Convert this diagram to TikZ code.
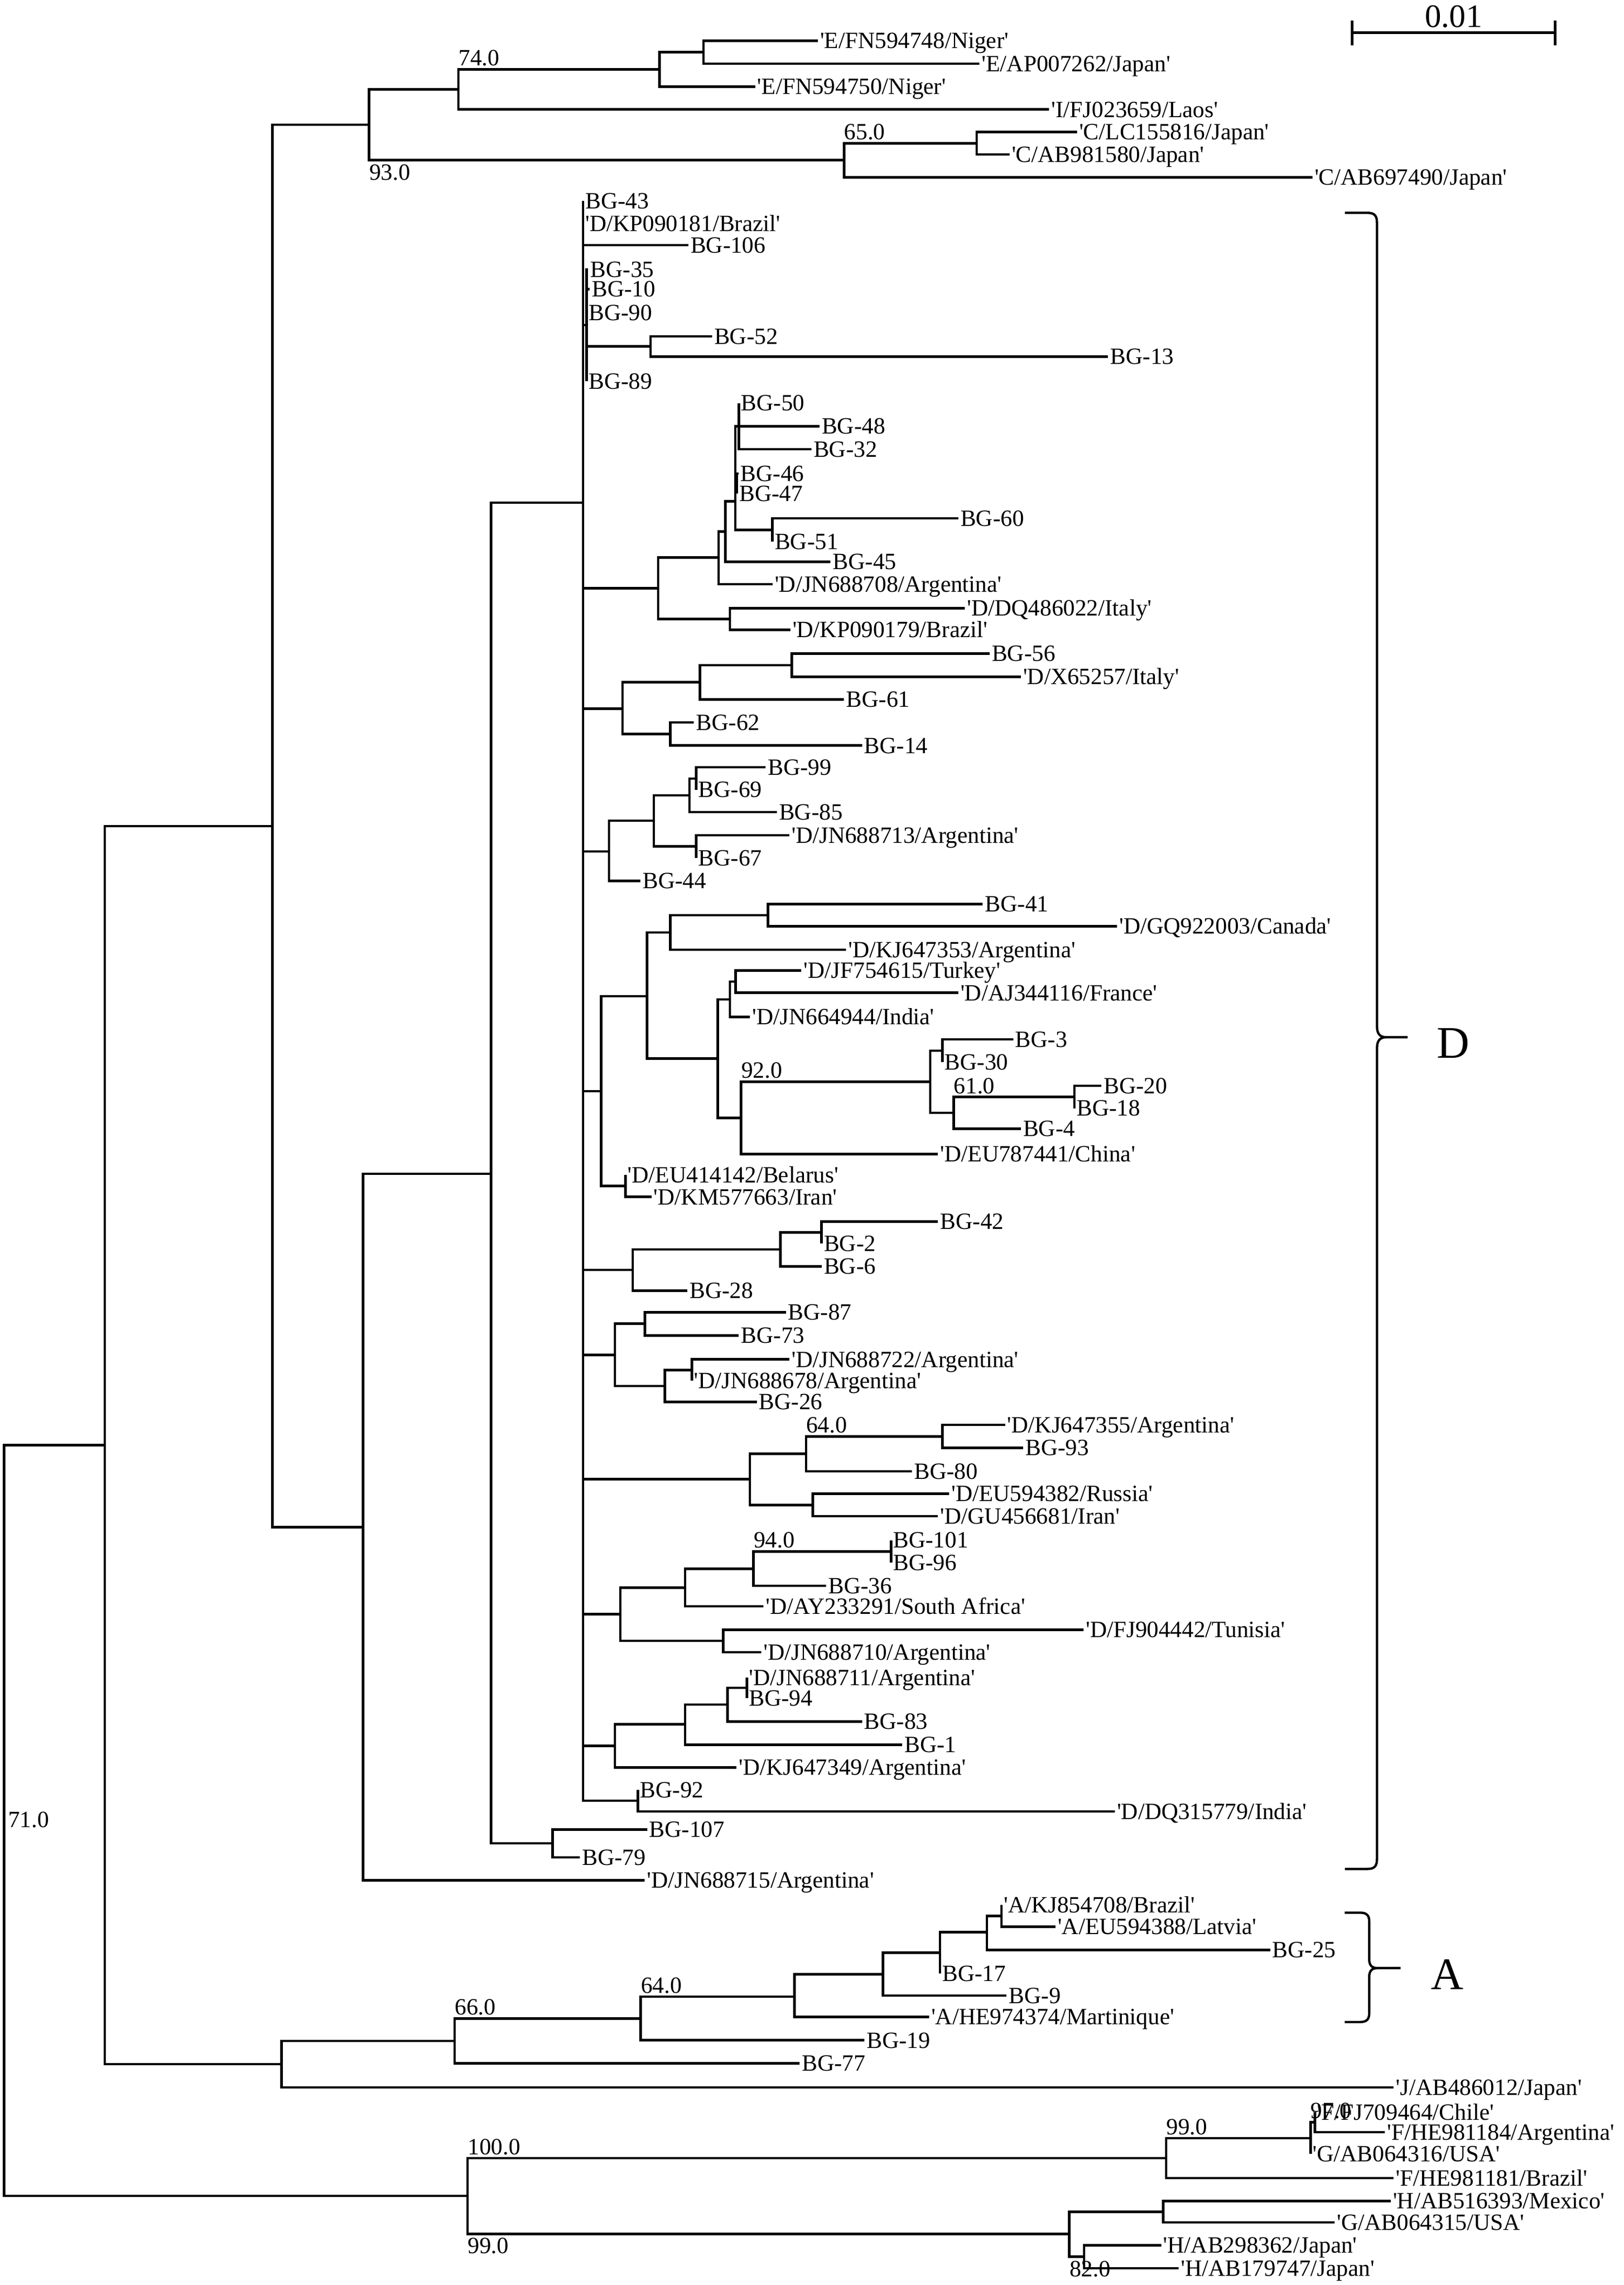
\documentclass[tikz,border=0pt]{standalone}
\usepackage{fontspec}
\newfontfamily\labfont{Liberation Serif}
\newcommand\lfnt{\labfont\fontsize{16}{18}\selectfont}
\newcommand\tipL[4]{\node[leaf] (#1) at (#2,#3) {#4};}
\newcommand\inN[3]{\coordinate (#1) at (#2,#3);}
\newcommand\edL[2]{\draw[br] (#1) |- (#2.west);}
\newcommand\edI[2]{\draw[br] (#1) |- (#2);}
\begin{document}
\begin{tikzpicture}[x=1pt,y=-1pt,
  br/.style={line width=1.7pt},
  brk/.style={line width=1.6pt},
  leaf/.style={anchor=west,inner xsep=1.4pt,inner ysep=0pt,text height=10.6pt,text depth=0pt,font=\lfnt},
  bsa/.style={anchor=base west,inner sep=0pt,font=\lfnt},
  bsb/.style={anchor=north west,inner sep=0pt,text height=10.8pt,text depth=0pt,font=\lfnt},
  grp/.style={inner sep=0pt,text height=20.5pt,text depth=0pt,font=\labfont\fontsize{31}{33}\selectfont}]
\useasboundingbox (0,0) rectangle (1114.07,1567.41);
% ================= internal nodes
\inN{r}{2.8}{1248.9}
\inN{n72}{71.8}{991.2}
\inN{n187}{186.8}{566.7}
\inN{n253}{253.2}{85.6}
\inN{n314}{314.4}{61.3}
\inN{nE}{452.4}{47.6}
\inN{nEE}{482.6}{35.8}
\inN{n579}{579}{109.9}
\inN{nCC}{670}{98.25}
\inN{n247}{249}{1047.6}
\inN{n337}{336.8}{805.2}
\inN{n379}{379}{1264.5}
\inN{nD0}{400}{344.8}
\inN{nD1}{402.3}{223}
\inN{n446}{446.3}{237.7}
\inN{n451}{451.5}{403.5}
\inN{n493}{493}{382.4}
\inN{n500}{500.7}{424.65}
\inN{n497}{497.6}{364.65}
\inN{nB}{504.5}{343.9}
\inN{nA}{506.8}{292.4}
\inN{nC}{505.5}{331.7}
\inN{nDD}{529.9}{363.5}
\inN{n427}{427}{486.2}
\inN{n480}{480.1}{468.0}
\inN{n543}{543.1}{456.3}
\inN{n460}{459.8}{503.5}
\inN{n418}{417.8}{584}
\inN{n448}{448.5}{563.0}
\inN{n473}{473.0}{545.5}
\inN{n477}{477.6}{534.0}
\inN{n478}{477.6}{580.65}
\inN{n412}{412.5}{748.5}
\inN{n444}{443.9}{683.4}
\inN{n460b}{459.8}{639.7}
\inN{n527}{526.8}{627.8}
\inN{n492}{492.4}{726.1}
\inN{n501}{500.7}{685.5}
\inN{n505}{504.7}{673.4}
\inN{n508}{508.4}{766.8}
\inN{n638}{638.2}{742.0}
\inN{n646}{646.5}{720.7}
\inN{n654}{654.2}{763.4}
\inN{n737}{737.1}{752.5}
\inN{n429}{429.1}{813.5}
\inN{n434}{434.0}{871.1}
\inN{n535}{535.4}{857.1}
\inN{n564}{563.6}{845.45}
\inN{n422}{421.8}{929.4}
\inN{n442}{442.3}{908.0}
\inN{n456}{456.2}{950.7}
\inN{n475}{474.6}{939.75}
\inN{n514}{514.5}{1014.7}
\inN{n553}{552.9}{997.3}
\inN{n646b}{646.5}{985.3}
\inN{n557}{557.5}{1032.3}
\inN{n425}{425.5}{1107.3}
\inN{n470}{470.0}{1089.1}
\inN{n517}{516.9}{1076.0}
\inN{n611}{611.2}{1064.2}
\inN{n496}{496.1}{1125.6}
\inN{n422b}{421.8}{1197.5}
\inN{n470b}{470.0}{1182.7}
\inN{n499}{499.1}{1169.3}
\inN{n512}{512.3}{1157.8}
\inN{n437}{437.6}{1235.1}
\inN{n193}{193.2}{1415.9}
\inN{n312}{311.9}{1400}
\inN{n440}{439.5}{1384.6}
\inN{n545}{545}{1369.6}
\inN{n606}{605.7}{1354.2}
\inN{n645}{644.8}{1339.5}
\inN{n677}{677}{1325.4}
\inN{n687}{687}{1314.2}
\inN{nFH}{320.7}{1506.3}
\inN{n800}{800}{1480.3}
\inN{n899}{899}{1466.6}
\inN{n902}{902}{1455.8}
\inN{n734}{733.6}{1532.4}
\inN{n798}{798}{1517.2}
\inN{n744}{743.7}{1548.0}
% ================= leaves
\tipL{e1}{561}{27.9}{'E/FN594748/Niger'}
\tipL{e2}{672}{43.7}{'E/AP007262/Japan'}
\tipL{e3}{518}{59.5}{'E/FN594750/Niger'}
\tipL{i1}{719.8}{75.1}{'I/FJ023659/Laos'}
\tipL{c1}{738.8}{90.5}{'C/LC155816/Japan'}
\tipL{c2}{692.5}{106}{'C/AB981580/Japan'}
\tipL{c3}{900.3}{121.6}{'C/AB697490/Japan'}
\tipL{b107}{443.9}{1255}{BG-107}
\tipL{b79}{397.8}{1274}{BG-79}
\tipL{d715}{442.3}{1289.7}{'D/JN688715/Argentina'}
\tipL{b43}{400}{137.7}{BG-43}
\tipL{d181}{400}{153.5}{'D/KP090181/Brazil'}
\tipL{b106}{472.1}{168.1}{BG-106}
\tipL{b35}{403.5}{185}{BG-35}
\tipL{b10}{404.5}{198.4}{BG-10}
\tipL{b90}{402.3}{214.6}{BG-90}
\tipL{b52}{488.4}{230.8}{BG-52}
\tipL{b13}{760.1}{244.6}{BG-13}
\tipL{b89}{402.3}{261.6}{BG-89}
\tipL{b50}{506.8}{276.5}{BG-50}
\tipL{b48}{562.1}{292.4}{BG-48}
\tipL{b32}{556.6}{308.2}{BG-32}
\tipL{b46}{506.5}{324.8}{BG-46}
\tipL{b47}{505.5}{338.6}{BG-47}
\tipL{b60}{657.3}{355.6}{BG-60}
\tipL{b51}{529.9}{371.5}{BG-51}
\tipL{b45}{569.8}{385.4}{BG-45}
\tipL{d708}{529.9}{400.7}{'D/JN688708/Argentina'}
\tipL{d022}{661.9}{417.2}{'D/DQ486022/Italy'}
\tipL{d179}{542.1}{432.1}{'D/KP090179/Brazil'}
\tipL{b56}{678.8}{448.4}{BG-56}
\tipL{d257}{700.3}{464.2}{'D/X65257/Italy'}
\tipL{b61}{579}{479.8}{BG-61}
\tipL{b62}{476.1}{495.6}{BG-62}
\tipL{b14}{591.3}{511.4}{BG-14}
\tipL{b99}{525.2}{526.3}{BG-99}
\tipL{b69}{477.6}{541.7}{BG-69}
\tipL{b85}{532.9}{557.0}{BG-85}
\tipL{d713}{541.5}{572.9}{'D/JN688713/Argentina'}
\tipL{b67}{477.6}{588.4}{BG-67}
\tipL{b44}{439.3}{604.3}{BG-44}
\tipL{b41}{674.2}{620.1}{BG-41}
\tipL{d003}{766.3}{635.4}{'D/GQ922003/Canada'}
\tipL{d353}{580.5}{651.5}{'D/KJ647353/Argentina'}
\tipL{d615}{549.8}{665.7}{'D/JF754615/Turkey'}
\tipL{d116}{657.3}{681.0}{'D/AJ344116/France'}
\tipL{d944}{514.5}{697.6}{'D/JN664944/India'}
\tipL{b3}{695.0}{712.9}{BG-3}
\tipL{b30}{646.5}{728.5}{BG-30}
\tipL{b20}{755.5}{744.8}{BG-20}
\tipL{b18}{737.1}{760.2}{BG-18}
\tipL{b4}{700.3}{774.3}{BG-4}
\tipL{d441}{643.5}{791.6}{'D/EU787441/China'}
\tipL{d142}{429.1}{806.1}{'D/EU414142/Belarus'}
\tipL{d663}{446.9}{821.0}{'D/KM577663/Iran'}
\tipL{b42}{643.5}{838.0}{BG-42}
\tipL{b2}{563.6}{852.9}{BG-2}
\tipL{b6}{563.6}{868.7}{BG-6}
\tipL{b28}{471.5}{885.3}{BG-28}
\tipL{b87}{539.1}{900.1}{BG-87}
\tipL{b73}{506.8}{916.0}{BG-73}
\tipL{d722}{541.5}{932.5}{'D/JN688722/Argentina'}
\tipL{d678}{474.6}{947.0}{'D/JN688678/Argentina'}
\tipL{b26}{519.1}{961.6}{BG-26}
\tipL{d355}{689.5}{977.4}{'D/KJ647355/Argentina'}
\tipL{b93}{701.8}{993.2}{BG-93}
\tipL{b80}{625.6}{1009.3}{BG-80}
\tipL{d382}{651.1}{1024.6}{'D/EU594382/Russia'}
\tipL{d681}{643.5}{1040.0}{'D/GU456681/Iran'}
\tipL{b101}{611.2}{1056.5}{BG-101}
\tipL{b96}{611.2}{1071.9}{BG-96}
\tipL{b36}{566.7}{1087.7}{BG-36}
\tipL{d291}{523.7}{1101.9}{'D/AY233291/South Africa'}
\tipL{d442}{743.3}{1117.9}{'D/FJ904442/Tunisia'}
\tipL{d710}{522.2}{1133.3}{'D/JN688710/Argentina'}
\tipL{d711}{512.3}{1150.8}{'D/JN688711/Argentina'}
\tipL{b94}{512.3}{1164.8}{BG-94}
\tipL{b83}{591.3}{1180.9}{BG-83}
\tipL{b1}{618.9}{1196.8}{BG-1}
\tipL{d349}{505.3}{1212.3}{'D/KJ647349/Argentina'}
\tipL{b92}{437.6}{1227.7}{BG-92}
\tipL{d779}{764.7}{1242.6}{'D/DQ315779/India'}
\tipL{a708}{687}{1306.8}{'A/KJ854708/Brazil'}
\tipL{a388}{724}{1321.6}{'A/EU594388/Latvia'}
\tipL{b25}{871.3}{1337.6}{BG-25}
\tipL{b17}{644.8}{1353.6}{BG-17}
\tipL{b9}{690.5}{1368.9}{BG-9}
\tipL{a374}{637.3}{1383.4}{'A/HE974374/Martinique'}
\tipL{b19}{593}{1399.5}{BG-19}
\tipL{b77}{548.5}{1415.4}{BG-77}
\tipL{j012}{956}{1431.8}{'J/AB486012/Japan'}
\tipL{f464}{902}{1448.9}{'F/FJ709464/Chile'}
\tipL{f184}{950}{1462.6}{'F/HE981184/Argentina'}
\tipL{g316}{899}{1477.4}{'G/AB064316/USA'}
\tipL{f181}{956}{1494}{'F/HE981181/Brazil'}
\tipL{h393}{954}{1509.8}{'H/AB516393/Mexico'}
\tipL{g315}{915.7}{1524.5}{'G/AB064315/USA'}
\tipL{h362}{796.5}{1540.2}{'H/AB298362/Japan'}
\tipL{h747}{808.5}{1555.9}{'H/AB179747/Japan'}
% ================= branches
\edI{r}{n72}\edI{r}{nFH}
\edI{n72}{n187}\edI{n72}{n193}
\edI{n187}{n253}\edI{n187}{n247}
\edI{n253}{n314}\edI{n253}{n579}
\edI{n314}{nE}\edL{n314}{i1}
\edI{nE}{nEE}\edL{nE}{e3}
\edL{nEE}{e1}\edL{nEE}{e2}
\edI{n579}{nCC}\edL{n579}{c3}
\edL{nCC}{c1}\edL{nCC}{c2}
\edI{n247}{n337}\edL{n247}{d715}
\edI{n337}{nD0}\edI{n337}{n379}
\edL{n379}{b107}\edL{n379}{b79}
\edL{nD0}{b43}\edL{nD0}{d181}\edL{nD0}{b106}\edI{nD0}{nD1}
\edL{nD1}{b35}\edL{nD1}{b10}\edL{nD1}{b90}\edI{nD1}{n446}\edL{nD1}{b89}
\edL{n446}{b52}\edL{n446}{b13}
\edI{nD0}{n451}
\edI{n451}{n493}\edI{n451}{n500}
\edI{n493}{n497}\edL{n493}{d708}
\edI{n497}{nB}\edL{n497}{b45}
\edI{nB}{nA}\edI{nB}{nC}\edI{nB}{nDD}
\edL{nA}{b50}\edL{nA}{b48}\edL{nA}{b32}
\edL{nC}{b46}\edL{nC}{b47}
\edL{nDD}{b60}\edL{nDD}{b51}
\edL{n500}{d022}\edL{n500}{d179}
\edI{nD0}{n427}
\edI{n427}{n480}\edI{n427}{n460}
\edI{n480}{n543}\edL{n480}{b61}
\edL{n543}{b56}\edL{n543}{d257}
\edL{n460}{b62}\edL{n460}{b14}
\edI{nD0}{n418}
\edI{n418}{n448}\edL{n418}{b44}
\edI{n448}{n473}\edI{n448}{n478}
\edI{n473}{n477}\edL{n473}{b85}
\edL{n477}{b99}\edL{n477}{b69}
\edL{n478}{d713}\edL{n478}{b67}
\edI{nD0}{n412}
\edI{n412}{n444}\edI{n412}{n429}
\edI{n444}{n460b}\edI{n444}{n492}
\edI{n460b}{n527}\edL{n460b}{d353}
\edL{n527}{b41}\edL{n527}{d003}
\edI{n492}{n501}\edI{n492}{n508}
\edI{n501}{n505}\edL{n501}{d944}
\edL{n505}{d615}\edL{n505}{d116}
\edI{n508}{n638}\edL{n508}{d441}
\edI{n638}{n646}\edI{n638}{n654}
\edL{n646}{b3}\edL{n646}{b30}
\edI{n654}{n737}\edL{n654}{b4}
\edL{n737}{b20}\edL{n737}{b18}
\edL{n429}{d142}\edL{n429}{d663}
\edI{nD0}{n434}
\edI{n434}{n535}\edL{n434}{b28}
\edI{n535}{n564}\edL{n535}{b6}
\edL{n564}{b42}\edL{n564}{b2}
\edI{nD0}{n422}
\edI{n422}{n442}\edI{n422}{n456}
\edL{n442}{b87}\edL{n442}{b73}
\edI{n456}{n475}\edL{n456}{b26}
\edL{n475}{d722}\edL{n475}{d678}
\edI{nD0}{n514}
\edI{n514}{n553}\edI{n514}{n557}
\edI{n553}{n646b}\edL{n553}{b80}
\edL{n646b}{d355}\edL{n646b}{b93}
\edL{n557}{d382}\edL{n557}{d681}
\edI{nD0}{n425}
\edI{n425}{n470}\edI{n425}{n496}
\edI{n470}{n517}\edL{n470}{d291}
\edI{n517}{n611}\edL{n517}{b36}
\edL{n611}{b101}\edL{n611}{b96}
\edL{n496}{d442}\edL{n496}{d710}
\edI{nD0}{n422b}
\edI{n422b}{n470b}\edL{n422b}{d349}
\edI{n470b}{n499}\edL{n470b}{b1}
\edI{n499}{n512}\edL{n499}{b83}
\edL{n512}{d711}\edL{n512}{b94}
\edI{nD0}{n437}
\edL{n437}{b92}\edL{n437}{d779}
\edI{n193}{n312}\edL{n193}{j012}
\edI{n312}{n440}\edL{n312}{b77}
\edI{n440}{n545}\edL{n440}{b19}
\edI{n545}{n606}\edL{n545}{a374}
\edI{n606}{n645}\edL{n606}{b9}
\edI{n645}{n677}\edL{n645}{b17}
\edI{n677}{n687}\edL{n677}{b25}
\edL{n687}{a708}\edL{n687}{a388}
\edI{nFH}{n800}\edI{nFH}{n734}
\edI{n800}{n899}\edL{n800}{f181}
\edI{n899}{n902}\edL{n899}{g316}
\edL{n902}{f464}\edL{n902}{f184}
\edI{n734}{n798}\edI{n734}{n744}
\edL{n798}{h393}\edL{n798}{g315}
\edL{n744}{h362}\edL{n744}{h747}
% ================= bootstrap values
\node[bsa] (bs1) at (314.4,45.1) {74.0};
\node[bsb] (bs2) at (253.2,112.4) {93.0};
\node[bsa] (bs3) at (579,95.8) {65.0};
\node[bsa] (bs4) at (508.4,739.5) {92.0};
\node[bsa] (bs5) at (654.2,750.0) {61.0};
\node[bsa] (bs6) at (552.9,982.8) {64.0};
\node[bsa] (bs7) at (516.9,1061.7) {94.0};
\node[leaf] (bs8) at (4.0,1248.2) {71.0};
\node[bsa] (bs9) at (311.9,1382.1) {66.0};
\node[bsa] (bs10) at (439.5,1367.1) {64.0};
\node[bsa] (bs11) at (320.7,1477.8) {100.0};
\node[bsb] (bs12) at (320.7,1534.9) {99.0};
\node[bsa] (bs13) at (800,1464.1) {99.0};
\node[bsa] (bs14) at (899,1453.3) {97.0};
\node[bsb] (bs15) at (733.6,1550.5) {82.0};
% ================= scale bar
\coordinate (sbL) at (927.6,22.5);
\coordinate (sbR) at (1066.8,22.5);
\draw[br] (sbL) -- (sbR);
\draw[br] ([yshift=8.5pt]sbL) -- ([yshift=-8.5pt]sbL);
\draw[br] ([yshift=8.5pt]sbR) -- ([yshift=-8.5pt]sbR);
\node[anchor=base,inner sep=0pt,font=\labfont\fontsize{22.5}{24}\selectfont] (sbT) at (997.2,18.8) {0.01};
% ================= brackets
\draw[brk] (922.6,146) -- (938,146) .. controls (943,146) and (944.6,148) .. (944.6,153)
  -- (944.6,704) .. controls (944.6,709) and (946.5,711.5) .. (951,711.5) -- (965.6,711.5);
\draw[brk] (965.6,711.5) -- (951,711.5) .. controls (946.5,711.5) and (944.6,714) .. (944.6,719)
  -- (944.6,1275) .. controls (944.6,1280) and (943,1282) .. (938,1282) -- (922.6,1282);
\node[grp] (gD) at (997,715.4) {D};
\draw[brk] (922.4,1312) -- (933,1312) .. controls (937.7,1312) and (939.3,1314) .. (939.3,1318)
  -- (939.3,1344) .. controls (939.3,1348) and (941,1350) .. (945,1350) -- (960.8,1350);
\draw[brk] (960.8,1350) -- (945,1350) .. controls (941,1350) and (939.3,1352) .. (939.3,1356)
  -- (939.3,1381) .. controls (939.3,1385) and (937.7,1387) .. (933,1387) -- (922.4,1387);
\node[grp] (gA) at (993,1354.5) {A};
\end{tikzpicture}
\end{document}
